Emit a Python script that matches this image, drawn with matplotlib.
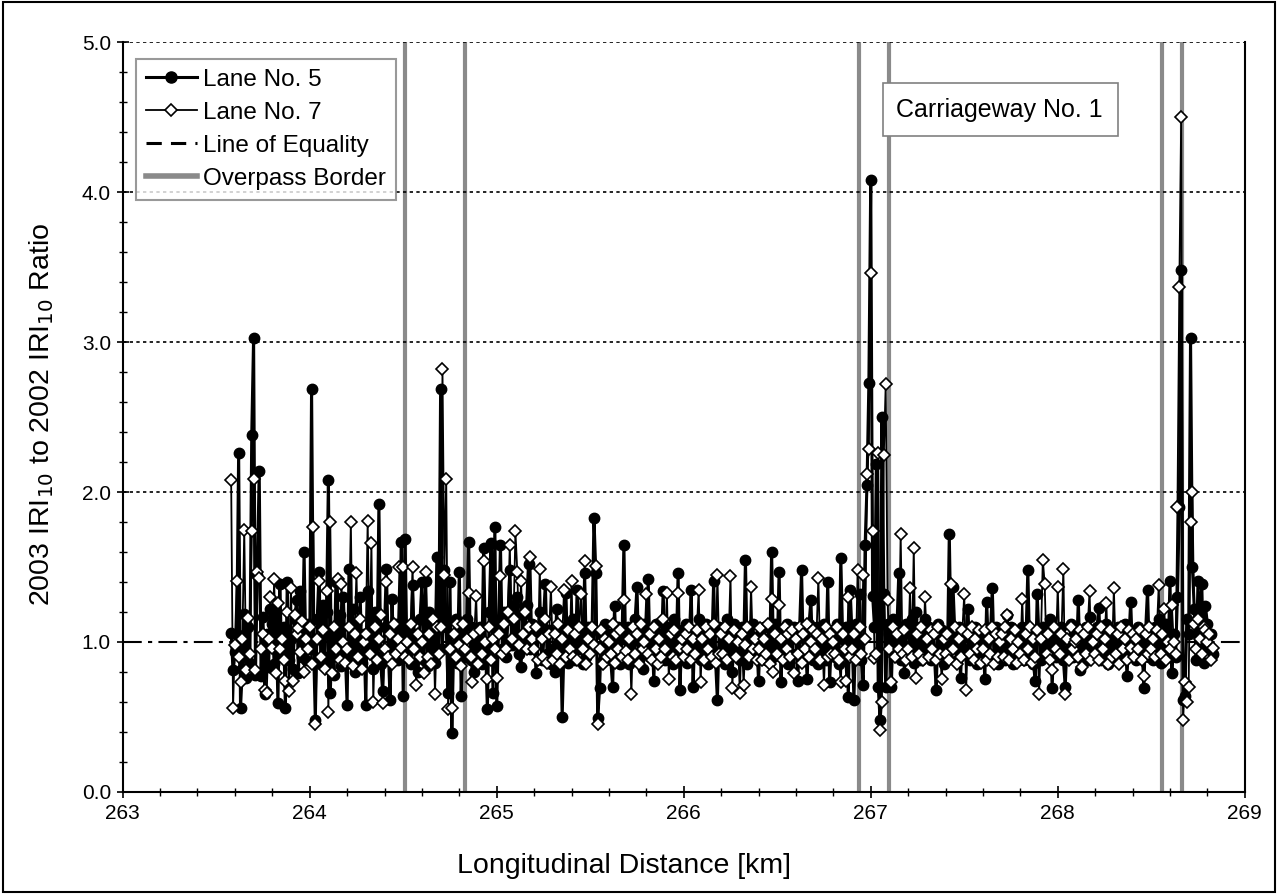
import numpy as np
import matplotlib
matplotlib.use("Agg")
import matplotlib.pyplot as plt
from matplotlib.lines import Line2D
from matplotlib.patches import Rectangle
from matplotlib.ticker import MultipleLocator, FormatStrFormatter

plt.rcParams['font.family'] = ['Liberation Sans', 'DejaVu Sans']

# 10 m sections, first one at km 263.58
start_km = 263.58
step_km = 0.01

# IRI10 ratio 2003/2002, one row per 0.1 km
lane5 = [
    1.06, 0.81,
    0.93, 1.05, 2.26, 0.56, 0.82, 1.19, 0.76, 1.10, 0.86, 2.38,   # 263.6
    3.03, 0.78, 1.45, 2.14, 0.77, 1.17, 0.65, 1.05, 0.83, 1.22,   # 263.7
    1.12, 0.85, 1.20, 0.59, 1.39, 0.92, 1.10, 0.56, 1.40, 0.88,   # 263.8
    1.02, 0.82, 1.15, 1.28, 0.79, 1.34, 0.90, 1.60, 0.88, 1.12,   # 263.9
    0.95, 2.69, 1.00, 0.48, 1.15, 1.47, 0.85, 1.25, 0.90, 1.20,   # 264.0
    2.08, 0.66, 1.05, 0.78, 1.40, 0.92, 1.18, 0.84, 1.30, 0.95,   # 264.1
    0.58, 1.49, 0.88, 1.22, 0.80, 1.12, 0.92, 1.30, 0.86, 1.05,   # 264.2
    0.58, 1.34, 0.95, 1.15, 0.82, 1.20, 0.90, 1.92, 0.85, 0.67,   # 264.3
    1.10, 1.49, 0.95, 0.61, 1.29, 0.90, 1.12, 0.88, 1.05, 1.67,   # 264.4
    0.64, 1.69, 0.92, 1.10, 0.85, 1.38, 0.95, 1.05, 0.80, 1.15,   # 264.5
    1.40, 0.88, 1.41, 0.84, 1.20, 0.90, 1.10, 0.86, 1.57, 0.95,   # 264.6
    2.69, 0.95, 1.48, 1.10, 0.66, 1.40, 0.39, 0.98, 1.15, 0.86,   # 264.7
    1.47, 0.64, 1.05, 0.90, 1.15, 1.67, 0.88, 1.10, 0.80, 1.02,   # 264.8
    0.92, 1.10, 0.85, 1.63, 0.98, 0.55, 1.20, 1.66, 0.66, 1.77,   # 264.9
    0.57, 1.10, 1.65, 0.95, 1.20, 0.90, 1.15, 1.48, 0.98, 1.25,   # 265.0
    1.05, 1.30, 0.92, 0.83, 1.18, 1.02, 1.25, 1.52, 0.95, 1.12,   # 265.1
    1.10, 0.79, 1.05, 1.20, 0.88, 1.15, 1.39, 0.92, 1.08, 0.85,   # 265.2
    0.95, 0.80, 1.22, 0.90, 1.10, 0.50, 0.98, 1.33, 0.86, 1.12,   # 265.3
    0.92, 1.15, 0.88, 1.35, 0.95, 1.05, 0.85, 1.46, 0.90, 1.10,   # 265.4
    0.95, 1.08, 1.83, 1.46, 0.49, 0.69, 1.05, 0.88, 1.12, 0.92,   # 265.5
    1.05, 0.88, 0.70, 1.24, 0.92, 1.10, 0.85, 1.02, 1.65, 0.90,   # 265.6
    1.10, 0.85, 1.02, 0.92, 1.15, 1.37, 0.88, 1.05, 0.82, 1.12,   # 265.7
    0.95, 1.42, 0.90, 1.08, 0.74, 1.12, 0.88, 1.05, 0.92, 1.34,   # 265.8
    0.88, 1.10, 0.92, 1.05, 0.85, 1.15, 0.95, 1.46, 0.68, 1.08,   # 265.9
    0.92, 1.12, 0.86, 1.02, 1.35, 0.70, 1.08, 0.90, 1.15, 0.88,   # 266.0
    1.05, 0.90, 1.12, 0.85, 1.02, 0.95, 1.41, 0.88, 0.61, 1.10,   # 266.1
    0.90, 1.08, 0.85, 1.15, 0.92, 1.05, 0.80, 1.12, 0.95, 1.02,   # 266.2
    0.88, 1.10, 0.92, 1.55, 0.85, 1.05, 0.95, 1.12, 0.90, 1.02,   # 266.3
    0.74, 1.05, 0.92, 1.10, 0.88, 1.02, 0.95, 1.60, 0.90, 1.12,   # 266.4
    0.95, 1.47, 0.73, 1.08, 0.90, 1.12, 0.85, 1.02, 0.92, 1.10,   # 266.5
    1.05, 0.74, 1.10, 1.48, 0.90, 1.02, 0.75, 1.12, 1.28, 0.88,   # 266.6
    0.92, 1.10, 0.85, 1.05, 0.95, 1.12, 0.88, 1.40, 0.73, 1.02,   # 266.7
    1.08, 0.90, 1.12, 0.85, 1.56, 1.02, 0.92, 1.10, 0.63, 1.35,   # 266.8
    1.05, 0.61, 1.12, 0.90, 1.32, 0.88, 0.71, 1.65, 2.05, 2.73,   # 266.9
    4.08, 1.31, 1.10, 2.19, 0.70, 0.48, 2.50, 1.32, 0.70, 1.12,   # 267.0
    1.05, 0.70, 1.15, 0.92, 1.10, 1.46, 0.88, 1.05, 0.79, 1.12,   # 267.1
    1.08, 0.92, 1.15, 0.86, 1.20, 0.95, 1.10, 0.88, 1.02, 1.15,   # 267.2
    0.95, 1.10, 0.88, 1.05, 0.92, 0.68, 1.12, 0.90, 1.08, 0.85,   # 267.3
    1.02, 0.90, 1.72, 0.95, 1.37, 1.05, 0.88, 1.10, 0.76, 1.02,   # 267.4
    0.95, 1.08, 1.22, 0.88, 1.05, 0.92, 1.10, 0.85, 1.02, 0.90,   # 267.5
    1.02, 0.75, 1.27, 0.92, 1.05, 1.36, 0.88, 1.10, 0.85, 1.02,   # 267.6
    0.92, 1.05, 0.88, 1.18, 0.95, 1.10, 0.85, 1.02, 0.90, 1.08,   # 267.7
    0.95, 1.10, 0.88, 1.02, 1.48, 0.92, 1.05, 0.85, 0.74, 1.32,   # 267.8
    1.02, 0.88, 1.10, 0.92, 1.05, 0.95, 1.15, 0.69, 1.08, 0.90,   # 267.9
    1.05, 0.92, 1.10, 0.88, 0.70, 1.02, 0.95, 1.12, 0.90, 1.05,   # 268.0
    0.92, 1.28, 0.81, 1.05, 0.95, 1.10, 0.88, 1.17, 0.92, 1.05,   # 268.1
    0.95, 1.10, 1.23, 0.88, 1.05, 0.92, 1.12, 0.85, 1.02, 0.90,   # 268.2
    1.05, 0.88, 1.10, 0.95, 1.02, 0.92, 1.12, 0.77, 1.02, 1.27,   # 268.3
    0.92, 1.05, 0.88, 1.10, 0.95, 1.02, 0.69, 1.08, 1.35, 0.90,   # 268.4
    1.05, 0.88, 1.10, 0.92, 1.15, 0.86, 1.05, 0.95, 1.12, 0.90,   # 268.5
    1.41, 0.79, 1.05, 0.90, 1.30, 1.90, 3.48, 0.61, 0.64, 1.15,   # 268.6
    1.05, 3.03, 1.50, 1.22, 0.88, 1.41, 1.02, 1.39, 0.86, 1.24,   # 268.7
    1.12, 0.95, 1.05, 0.92,                                       # 268.8
]

lane7 = [
    2.08, 0.56,
    0.98, 1.41, 0.90, 0.73, 1.02, 1.75, 0.81, 1.16, 0.92, 1.74,   # 263.6
    2.09, 0.81, 1.47, 1.43, 0.95, 1.05, 0.68, 0.66, 1.02, 1.30,   # 263.7
    0.96, 1.42, 0.79, 1.26, 0.95, 1.02, 0.88, 0.74, 1.20, 0.67,   # 263.8
    1.36, 0.74, 1.18, 1.05, 1.09, 0.93, 1.14, 0.80, 1.02, 0.95,   # 263.9
    1.10, 0.85, 1.77, 0.45, 1.02, 1.41, 0.90, 1.08, 0.82, 1.34,   # 264.0
    0.53, 1.80, 0.79, 1.10, 0.95, 1.42, 0.88, 1.39, 1.00, 0.86,   # 264.1
    0.95, 1.10, 1.80, 0.84, 1.05, 1.46, 0.90, 1.15, 0.82, 1.00,   # 264.2
    1.05, 1.81, 0.92, 1.66, 0.60, 1.10, 0.88, 1.02, 1.18, 0.59,   # 264.3
    0.95, 1.40, 0.90, 1.05, 0.85, 1.12, 0.92, 1.02, 1.50, 0.96,   # 264.4
    1.50, 0.90, 1.00, 0.88, 1.12, 1.50, 0.95, 0.71, 1.05, 0.90,   # 264.5
    1.00, 0.79, 1.47, 0.90, 1.05, 0.85, 1.15, 0.65, 1.10, 0.92,   # 264.6
    1.10, 2.82, 1.45, 2.09, 0.55, 0.95, 0.56, 1.05, 0.90, 1.12,   # 264.7
    0.98, 0.84, 1.12, 0.95, 1.02, 1.33, 0.90, 0.73, 1.05, 1.31,   # 264.8
    0.85, 1.08, 0.92, 1.54, 1.00, 0.75, 1.10, 0.88, 1.02, 0.95,   # 264.9
    0.76, 1.05, 1.44, 0.92, 1.12, 0.95, 1.20, 1.65, 1.02, 1.15,   # 265.0
    1.74, 1.47, 0.98, 1.41, 1.05, 1.20, 0.95, 1.10, 1.57, 1.02,   # 265.1
    0.95, 1.10, 0.88, 1.49, 1.02, 0.90, 1.15, 0.86, 1.05, 1.37,   # 265.2
    0.88, 1.05, 0.92, 1.12, 0.85, 1.02, 1.35, 0.90, 1.08, 0.95,   # 265.3
    1.41, 0.90, 1.05, 0.88, 1.10, 1.32, 0.95, 1.54, 0.85, 1.02,   # 265.4
    0.92, 1.10, 0.98, 1.51, 0.45, 0.95, 1.08, 0.85, 1.02, 0.90,   # 265.5
    1.00, 0.92, 1.12, 0.86, 1.05, 0.95, 1.08, 0.90, 1.28, 0.94,   # 265.6
    0.88, 1.02, 0.65, 1.10, 0.92, 1.05, 0.85, 1.12, 0.95, 1.00,   # 265.7
    1.32, 0.92, 1.05, 0.88, 1.10, 0.95, 0.85, 1.02, 0.90, 1.15,   # 265.8
    0.95, 1.33, 0.75, 1.05, 0.90, 1.08, 0.88, 1.33, 0.96, 1.02,   # 265.9
    0.90, 1.05, 0.95, 1.10, 0.88, 1.02, 0.92, 1.08, 1.35, 0.73,   # 266.0
    1.02, 0.88, 1.10, 0.95, 1.05, 0.90, 1.12, 0.86, 1.45, 0.92,   # 266.1
    1.05, 0.92, 1.10, 0.88, 1.02, 1.44, 0.69, 1.08, 0.90, 1.00,   # 266.2
    0.66, 1.05, 0.71, 0.98, 1.10, 0.90, 1.37, 0.95, 1.02, 0.88,   # 266.3
    0.95, 1.09, 0.88, 1.02, 0.92, 1.12, 0.85, 1.29, 0.80, 1.05,   # 266.4
    0.92, 1.25, 1.02, 0.88, 1.10, 0.95, 1.05, 0.90, 1.08, 0.79,   # 266.5
    1.02, 0.92, 1.10, 0.86, 1.05, 0.95, 1.12, 0.90, 1.00, 1.08,   # 266.6
    0.95, 1.05, 1.43, 0.88, 1.02, 0.71, 1.10, 0.90, 1.05, 0.92,   # 266.7
    1.00, 0.92, 1.10, 0.88, 0.73, 1.05, 0.95, 0.74, 1.30, 0.90,   # 266.8
    0.95, 1.05, 0.88, 1.48, 1.10, 0.92, 1.45, 1.02, 2.12, 2.29,   # 266.9
    3.46, 1.74, 0.89, 0.92, 2.26, 0.41, 0.60, 2.25, 2.72, 1.28,   # 267.0
    0.95, 0.73, 1.10, 0.90, 1.05, 0.95, 1.72, 0.92, 1.08, 0.88,   # 267.1
    0.95, 1.36, 0.90, 1.63, 0.76, 1.05, 0.92, 1.10, 0.88, 1.30,   # 267.2
    1.02, 0.90, 1.08, 0.95, 1.05, 0.88, 1.10, 0.92, 0.75, 1.02,   # 267.3
    0.92, 1.05, 0.88, 1.39, 0.95, 1.10, 0.85, 1.02, 0.90, 1.08,   # 267.4
    1.32, 0.68, 1.05, 0.92, 1.10, 0.88, 1.02, 0.95, 1.08, 0.86,   # 267.5
    0.95, 1.08, 0.88, 1.02, 0.92, 1.10, 0.85, 1.05, 0.90, 1.00,   # 267.6
    1.05, 0.90, 1.10, 1.18, 0.88, 1.02, 0.95, 1.08, 0.86, 1.00,   # 267.7
    0.92, 1.29, 0.88, 1.05, 0.95, 1.10, 0.86, 1.02, 0.90, 1.08,   # 267.8
    0.65, 1.02, 1.55, 1.39, 0.92, 1.05, 0.88, 0.81, 1.10, 0.95,   # 267.9
    1.37, 0.92, 1.05, 1.49, 0.65, 1.02, 0.88, 1.10, 0.95, 1.00,   # 268.0
    1.02, 0.90, 1.08, 0.83, 1.05, 0.92, 1.10, 1.34, 0.88, 1.00,   # 268.1
    0.92, 1.05, 0.88, 1.10, 0.95, 1.02, 1.26, 0.85, 1.08, 0.90,   # 268.2
    1.36, 0.92, 1.05, 0.85, 1.10, 0.95, 1.02, 0.88, 1.08, 0.96,   # 268.3
    1.05, 0.90, 1.02, 0.95, 1.08, 0.88, 0.77, 1.05, 0.92, 1.10,   # 268.4
    0.95, 1.02, 0.90, 1.08, 1.38, 0.92, 1.05, 1.22, 0.88, 1.00,   # 268.5
    0.95, 1.25, 1.00, 0.92, 1.90, 3.37, 4.50, 0.48, 0.73, 0.60,   # 268.6
    0.70, 1.80, 2.00, 1.12, 0.95, 1.15, 1.02, 0.92, 1.10, 1.08,   # 268.7
    1.00, 1.05, 0.88, 0.96,                                       # 268.8
]

overpass_km = [264.51, 264.83, 266.935, 267.095, 268.56, 268.667]

dist = start_km + step_km * np.arange(len(lane5))

fig = plt.figure(figsize=(12.78, 8.94), dpi=100)
ax = fig.add_axes([0.096, 0.1141, 0.878, 0.8389])

for km in overpass_km:
    ax.axvline(km, color='#8a8a8a', lw=3, zorder=1)

for yv in [2, 3, 4, 5]:
    ax.axhline(yv, color='black', lw=1.2, ls=(0, (2, 2)), zorder=1)
ax.axhline(1.0, color='black', lw=1.5, ls=(0, (9, 3, 2, 3)), zorder=1.5)

ax.plot(dist, lane5, color='black', lw=2.2, marker='o', ms=7.5,
        mfc='black', mec='black', zorder=3)
ax.plot(dist, lane7, color='black', lw=1.3, marker='D', ms=6.3,
        mfc='white', mec='black', mew=1.2, zorder=4)

ax.set_xlim(263, 269)
ax.set_ylim(0, 5)
ax.xaxis.set_major_locator(MultipleLocator(1))
ax.xaxis.set_minor_locator(MultipleLocator(0.2))
ax.yaxis.set_major_locator(MultipleLocator(1))
ax.yaxis.set_minor_locator(MultipleLocator(0.2))
ax.yaxis.set_major_formatter(FormatStrFormatter('%.1f'))
ax.tick_params(which='major', direction='inout', length=9, width=1.2,
               labelsize=15, pad=4)
ax.tick_params(which='minor', direction='inout', length=6, width=1.0)
ax.spines['top'].set_visible(False)
for s in ['left', 'bottom', 'right']:
    ax.spines[s].set_linewidth(1.5)

ax.set_xlabel('Longitudinal Distance [km]', fontsize=20.5)
ax.xaxis.label.set_va('center')
ax.xaxis.set_label_coords(0.447, -0.099)
ax.set_ylabel('2003 IRI$_{10}$ to 2002 IRI$_{10}$ Ratio', fontsize=20.5)
ax.yaxis.label.set_va('center')
ax.yaxis.set_label_coords(-0.072, 0.503)

handles = [
    Line2D([], [], color='black', lw=2.2, marker='o', ms=8, mfc='black'),
    Line2D([], [], color='black', lw=1.3, marker='D', ms=6.3, mfc='white', mew=1.2),
    Line2D([], [], color='black', lw=2.2, ls=(0, (5, 3))),
    Line2D([], [], color='#8a8a8a', lw=4),
]
labels = ['Lane No. 5', 'Lane No. 7', 'Line of Equality', 'Overpass Border']
leg = ax.legend(handles, labels, loc='upper left', bbox_to_anchor=(0.012, 0.977),
                borderaxespad=0, fontsize=17.5, frameon=True, fancybox=False,
                handlelength=2.1, handletextpad=0.25, borderpad=0.4,
                labelspacing=0.45)
leg.get_frame().set_edgecolor('#808080')
leg.get_frame().set_linewidth(1.5)
leg.set_zorder(10)

# annotation box
ax.add_patch(Rectangle((267.065, 4.373), 1.255, 0.356, fc='white', ec='#808080',
                       lw=1.2, zorder=9))
ax.text(267.69, 4.55, 'Carriageway No. 1', fontsize=18, ha='center', va='center',
        zorder=10)

fig.patches.append(Rectangle((0.002, 0.002), 0.996, 0.996, transform=fig.transFigure,
                             fill=False, ec='black', lw=1.5))

fig.savefig('out.png', dpi=100)
